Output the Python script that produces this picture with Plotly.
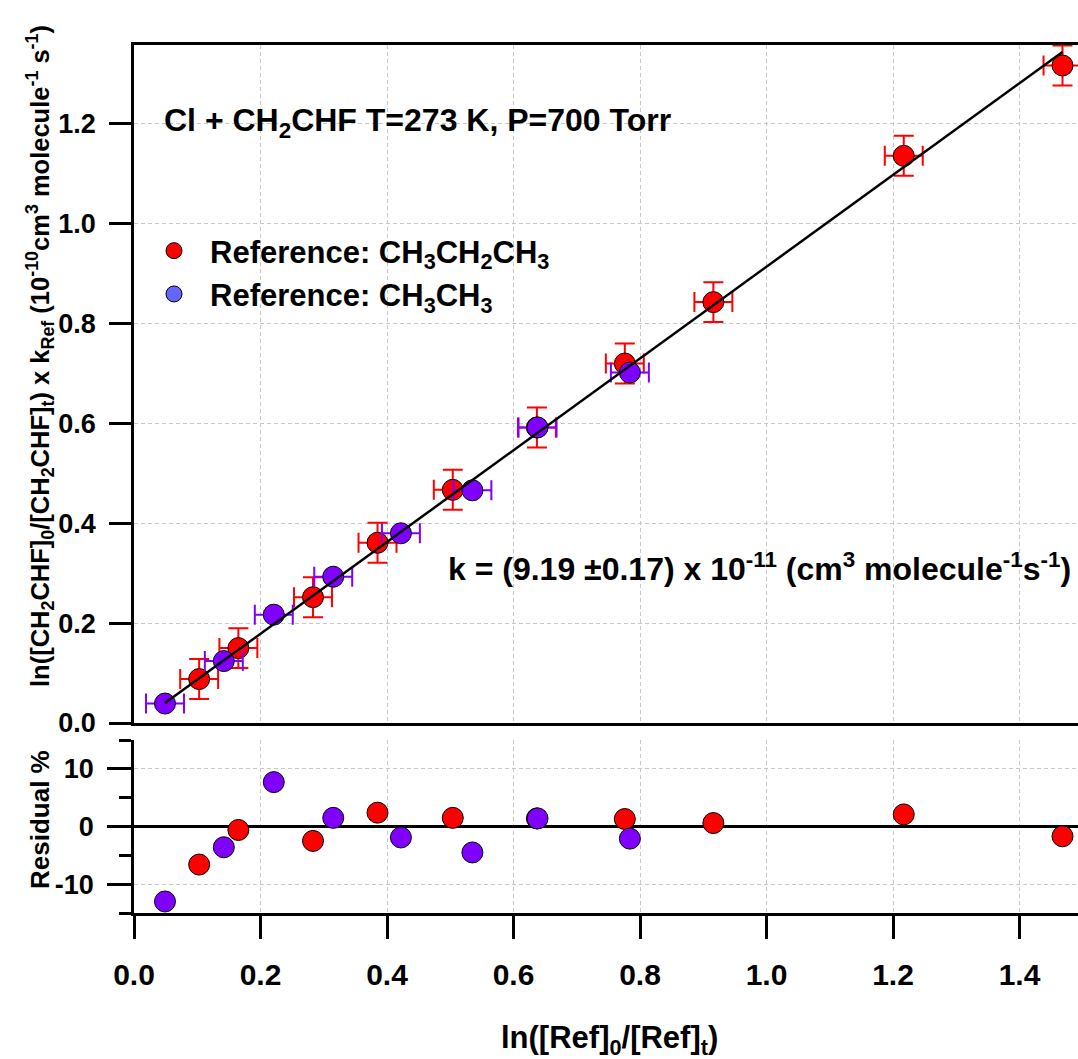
import plotly.graph_objects as go

# ---------------- data ----------------
# Reference compound: CH3CH2CH3 (propane)
prop_x = [0.103, 0.165, 0.283, 0.385, 0.504, 0.637, 0.776, 0.916, 1.217, 1.468]
prop_y = [0.088, 0.150, 0.252, 0.361, 0.467, 0.592, 0.720, 0.843, 1.136, 1.317]
prop_xerr = [0.03, 0.03, 0.03, 0.03, 0.03, 0.03, 0.03, 0.03, 0.03, 0.03]
prop_yerr = [0.04, 0.04, 0.04, 0.04, 0.04, 0.04, 0.04, 0.04, 0.04, 0.04]
prop_res = [-6.6, -0.6, -2.5, 2.4, 1.5, 1.4, 1.3, 0.6, 2.1, -1.7]

# Reference compound: CH3CH3 (ethane)
eth_x = [0.049, 0.142, 0.221, 0.315, 0.422, 0.535, 0.638, 0.784]
eth_y = [0.039, 0.124, 0.217, 0.293, 0.380, 0.466, 0.592, 0.702]
eth_xerr = [0.03, 0.03, 0.03, 0.03, 0.03, 0.03, 0.03, 0.03]
eth_res = [-13.0, -3.6, 7.7, 1.5, -1.9, -4.5, 1.4, -2.1]

# Linear fit line end points
fit_x = [0.049, 1.468]
fit_y = [0.040, 1.344]

# Residual axis tick labels (hyphen minus as in the reference)
res_tickvals = [-10, 0, 10]
res_ticktext = ["-10", "0", "10"]

legend_names = ["Reference: CH<sub>3</sub>CH<sub>2</sub>CH<sub>3</sub>",
                "Reference: CH<sub>3</sub>CH<sub>3</sub>"]

# ---------------- style ----------------
FONT = "Liberation Sans, Arial, sans-serif"
RED = "#FF0000"
PURPLE = "#7F00FF"
LEG_PURPLE = "#6464FF"
GRID = "#c8c8c8"
W, H = 1078, 1059
ML, MR, MT, MB = 134, 0, 45, 146
PH = H - MT - MB
PW = W - ML - MR


def py(page_y):
    return (H - MB - page_y) / PH


def px(page_x):
    return (page_x - ML) / PW


def bold(size):
    return dict(family=FONT, size=size, color="black", weight="bold")


fig = go.Figure()

mk = dict(size=21, line=dict(color="black", width=1))

# main panel data
fig.add_trace(go.Scatter(
    x=prop_x, y=prop_y, mode="markers", xaxis="x2", yaxis="y2", showlegend=False,
    marker=dict(color=RED, **mk),
    error_x=dict(type="data", array=prop_xerr, color=RED, thickness=2, width=10),
    error_y=dict(type="data", array=prop_yerr, color=RED, thickness=2, width=10),
))
fig.add_trace(go.Scatter(
    x=eth_x, y=eth_y, mode="markers", xaxis="x2", yaxis="y2", showlegend=False,
    marker=dict(color=PURPLE, **mk),
    error_x=dict(type="data", array=eth_xerr, color=PURPLE, thickness=2, width=10),
))
fig.add_trace(go.Scatter(
    x=fit_x, y=fit_y, mode="lines", xaxis="x2", yaxis="y2", showlegend=False,
    line=dict(color="black", width=2.5),
))

# residual panel
fig.add_trace(go.Scatter(
    x=prop_x, y=prop_res, mode="markers", xaxis="x", yaxis="y", showlegend=False,
    marker=dict(color=RED, **mk),
))
fig.add_trace(go.Scatter(
    x=eth_x, y=eth_res, mode="markers", xaxis="x", yaxis="y", showlegend=False,
    marker=dict(color=PURPLE, **mk),
))

# legend entries
fig.add_trace(go.Scatter(x=[None], y=[None], mode="markers", name=legend_names[0],
                         xaxis="x2", yaxis="y2",
                         marker=dict(color=RED, size=21, line=dict(color="black", width=1))))
fig.add_trace(go.Scatter(x=[None], y=[None], mode="markers", name=legend_names[1],
                         xaxis="x2", yaxis="y2",
                         marker=dict(color=LEG_PURPLE, size=21, line=dict(color="black", width=1))))

XMAX = PW / 632.5
axis_common = dict(showline=True, linecolor="black", linewidth=2.5,
                   tickcolor="black", tickwidth=2.5,
                   gridcolor=GRID, gridwidth=1, griddash="4px,3px")

main_bottom = py(723)
res_top = py(740)

fig.update_layout(
    width=W, height=H,
    margin=dict(l=ML, r=MR, t=MT, b=MB, pad=0),
    paper_bgcolor="white", plot_bgcolor="white",
    font=bold(24),
    xaxis=dict(domain=[0, 1], anchor="y", range=[0, XMAX], dtick=0.2, tick0=0,
               tickformat=".1f", ticks="outside", ticklen=23, showgrid=True,
               zeroline=False, ticklabelstandoff=10, tickfont=bold(30), **axis_common),
    yaxis=dict(domain=[0, res_top], anchor="x", range=[-15, 15],
               tickmode="array", tickvals=res_tickvals, ticktext=res_ticktext,
               ticks="outside", ticklen=24, showgrid=True,
               zeroline=True, zerolinecolor="black", zerolinewidth=2.5,
               ticklabelstandoff=8, tickfont=bold(27),
               minor=dict(dtick=5, tick0=0, ticks="outside", ticklen=12,
                          tickwidth=2.5, tickcolor="black", showgrid=False),
               **axis_common),
    xaxis2=dict(domain=[0, 1], anchor="y2", matches="x", range=[0, XMAX], dtick=0.2,
                tick0=0, showticklabels=False, ticks="", mirror=True, showgrid=True,
                zeroline=False, **axis_common),
    yaxis2=dict(domain=[main_bottom, 1], anchor="x2", range=[0, 1.358], dtick=0.2,
                tick0=0, tickformat=".1f", ticks="outside", ticklen=22, showgrid=True,
                zeroline=False, ticklabelstandoff=8, tickfont=bold(27), **axis_common),
    showlegend=True,
    legend=dict(x=px(138), y=py(224), xanchor="left", yanchor="top",
                bgcolor="rgba(0,0,0,0)", borderwidth=0, itemwidth=62,
                font=bold(31), tracegroupgap=0),
)

fig.add_annotation(xref="paper", yref="paper", x=px(162), y=py(122),
                   xanchor="left", yanchor="middle", showarrow=False,
                   text="Cl + CH<sub>2</sub>CHF T=273 K, P=700 Torr", font=bold(32))
fig.add_annotation(xref="paper", yref="paper", x=px(446), y=py(567),
                   xanchor="left", yanchor="middle", showarrow=False,
                   text="k = (9.19 \u00b10.17) x 10<sup>-11</sup> (cm<sup>3</sup> molecule<sup>-1</sup>s<sup>-1</sup>)",
                   font=bold(32))
fig.add_annotation(xref="paper", yref="paper", x=px(40), y=py(356),
                   xanchor="center", yanchor="middle", showarrow=False, textangle=-90,
                   text="ln([CH<sub>2</sub>CHF]<sub>0</sub>/[CH<sub>2</sub>CHF]<sub>t</sub>) x k<sub>Ref</sub> (10<sup>-10</sup>cm<sup>3</sup> molecule<sup>-1</sup> s<sup>-1</sup>)",
                   font=bold(25.5))
fig.add_annotation(xref="paper", yref="paper", x=px(40), y=py(820),
                   xanchor="center", yanchor="middle", showarrow=False, textangle=-90,
                   text="Residual %", font=bold(26))
fig.add_annotation(xref="paper", yref="paper", x=px(609), y=py(1040),
                   xanchor="center", yanchor="middle", showarrow=False,
                   text="ln([Ref]<sub>0</sub>/[Ref]<sub>t</sub>)", font=bold(31))

fig.write_html("out.html", config={"displayModeBar": False},
               post_script="document.body.style.margin='0';document.body.style.overflow='hidden';")
